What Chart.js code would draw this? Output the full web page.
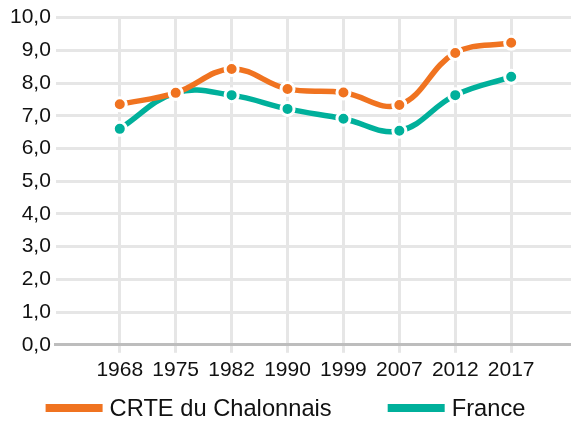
<!DOCTYPE html>
<html>
<head>
<meta charset="utf-8">
<script src="https://cdn.jsdelivr.net/npm/chart.js@4/dist/chart.umd.min.js"></script>
<style>
  html, body { margin: 0; padding: 0; background: #fff; }
  #wrap { width: 571px; height: 421px; }
</style>
</head>
<body>
<div id="wrap"><canvas id="PopChart" width="571" height="421"></canvas></div>
<script>
const years = ["1968", "1975", "1982", "1990", "1999", "2007", "2012", "2017"];
const chalonnais = [7.35, 7.70, 8.43, 7.82, 7.71, 7.33, 8.92, 9.23];
const france = [6.60, 7.70, 7.63, 7.21, 6.91, 6.54, 7.63, 8.19];
const yTicks = [0, 1, 2, 3, 4, 5, 6, 7, 8, 9, 10];

const orange = "rgb(240, 115, 32)";
const teal = "rgb(0, 176, 155)";
const fontFamily = "'Liberation Sans', Arial, sans-serif";

function toPoints(values) {
    return values.map((v, i) => ({ x: i, y: v }));
}

function lineSet(label, values, color) {
    return {
        label: label,
        data: toPoints(values),
        borderColor: color,
        backgroundColor: color,
        borderWidth: 5.5,
        fill: false,
        tension: 0.4,
        pointRadius: 6.5,
        pointHoverRadius: 6.5,
        pointBackgroundColor: color,
        pointBorderColor: "#fff",
        pointBorderWidth: 3,
    };
}

// legend drawn by hand: wide gap between items but a short legend row
const wideLegend = {
    id: "wideLegend",
    afterDraw(chart) {
        const ctx = chart.ctx;
        const boxW = 57, boxH = 8, textGap = 7, itemGap = 56;
        const y = 408;

        ctx.save();
        ctx.font = "23.7px " + fontFamily;
        ctx.textBaseline = "middle";
        ctx.textAlign = "left";

        const items = chart.data.datasets.map((ds) => {
            const w = ctx.measureText(ds.label).width;
            return { text: ds.label, color: ds.borderColor, width: boxW + textGap + w };
        });
        const total = items.reduce((s, it) => s + it.width, 0) + itemGap * (items.length - 1);

        let x = (chart.width - total) / 2;
        items.forEach((it) => {
            ctx.fillStyle = it.color;
            ctx.fillRect(x, y - boxH / 2, boxW, boxH);
            ctx.fillStyle = "#111";
            ctx.fillText(it.text, x + boxW + textGap, y + 1);
            x += it.width + itemGap;
        });
        ctx.restore();
    },
};

function PopChart() {
    const ctx = document.getElementById("PopChart");

    new Chart(ctx, {
        type: "line",
        data: {
            datasets: [
                lineSet("CRTE du Chalonnais", chalonnais, orange),
                lineSet("France", france, teal),
            ],
        },
        options: {
            responsive: false,
            animation: false,
            layout: {
                // plot runs right up to the canvas edge
                autoPadding: false,
                padding: { top: 4, right: 0, left: 5, bottom: 33 },
            },
            scales: {
                x: {
                    type: "linear",
                    min: -1.143,
                    max: 8.07,
                    afterBuildTicks: (axis) => {
                        axis.ticks = years.map((y, i) => ({ value: i }));
                    },
                    border: {
                        display: true,
                        color: "#bdbdbd",
                        width: 3,
                    },
                    grid: {
                        color: "#e6e6e6",
                        lineWidth: 3,
                        tickLength: 8,
                    },
                    ticks: {
                        color: "#111",
                        padding: 5,
                        maxRotation: 0,
                        autoSkip: false,
                        font: { family: fontFamily, size: 21 },
                        callback: (value) => years[value] ?? "",
                    },
                },
                y: {
                    min: 0,
                    max: 10,
                    afterBuildTicks: (axis) => {
                        axis.ticks = yTicks.map((v) => ({ value: v }));
                    },
                    border: { display: false },
                    grid: {
                        color: "#e6e6e6",
                        lineWidth: 3,
                        drawTicks: false,
                    },
                    ticks: {
                        color: "#111",
                        padding: 5,
                        font: { family: fontFamily, size: 21 },
                        callback: (value) => value.toFixed(1).replace(".", ","),
                    },
                },
            },
            plugins: {
                tooltip: { enabled: false },
                legend: { display: false },
            },
        },
        plugins: [wideLegend],
    });
}

PopChart();
</script>
</body>
</html>
